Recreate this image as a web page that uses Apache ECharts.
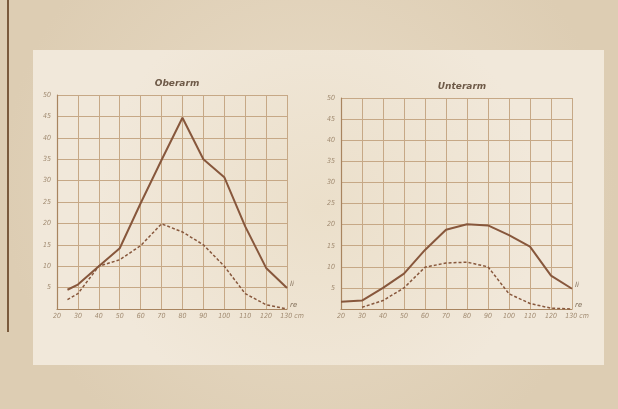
<!DOCTYPE html>
<html><head><meta charset="utf-8">
<script src="https://cdn.jsdelivr.net/npm/echarts@6/dist/echarts.min.js"></script>
<style>html,body{margin:0;padding:0;background:#e6d8c2}#c{width:618px;height:409px}</style>
</head><body><div id="c"></div>
<script>
// Data
const xTicksLabels = ['20','30','40','50','60','70','80','90','100','110','120','130 cm'];
const yTickLabels = ['','5','10','15','20','25','30','35','40','45','50'];
const oberX  = [25, 30, 40, 50, 60, 70, 80, 90, 100, 110, 120, 130];
const oberLi = [4.5, 5.7, 10, 14.2, 24.7, 34.8, 44.7, 35, 30.8, 19.3, 9.6, 4.9];
const oberRe = [2.2, 3.6, 10, 11.5, 14.8, 19.9, 18, 15, 10, 3.6, 1, 0];
const unterLiX = [20, 30, 40, 50, 60, 70, 80, 90, 100, 110, 120, 130];
const unterLi  = [1.7, 2, 5, 8.4, 14, 18.8, 20.1, 19.8, 17.5, 14.8, 7.9, 4.8];
const unterReX = [30, 40, 50, 60, 70, 80, 90, 100, 110, 120, 130];
const unterRe  = [0.4, 2, 5, 9.9, 10.9, 11.1, 10, 3.6, 1.3, 0.2, 0];
const titles = ['Oberarm', 'Unterarm'];

const lineCol = '#87573c';
const gridCol = '#c6a886';
const axisCol = '#a8845f';
const txtCol = '#a08a70';

function pairs(xs, ys){ return xs.map((x,i)=>[x, ys[i]]); }

function xAxis(idx){
  return {
    type:'value', gridIndex:idx, min:20, max:130, interval:10,
    axisLine:{show:true, lineStyle:{color:axisCol, width:1.2}},
    axisTick:{show:false},
    splitLine:{show:true, lineStyle:{color:gridCol, width:1}},
    axisLabel:{color:txtCol, fontSize:7, fontStyle:'italic', fontFamily:'DejaVu Sans Condensed, DejaVu Sans', margin:4,
      formatter:(v)=>{const i=Math.round((v-20)/10); const s=xTicksLabels[i]||''; return s.indexOf(' ')>0?'{u|'+s+'}':s;},
      rich:{u:{color:txtCol, fontSize:7, fontStyle:'italic', fontFamily:'DejaVu Sans Condensed, DejaVu Sans', padding:[0,0,0,10]}}}
  };
}
function yAxis(idx){
  return {
    type:'value', gridIndex:idx, min:0, max:50, interval:5,
    axisLine:{show:true, lineStyle:{color:axisCol, width:1.2}},
    axisTick:{show:false},
    splitLine:{show:true, lineStyle:{color:gridCol, width:1}},
    axisLabel:{color:txtCol, fontSize:7, fontStyle:'italic', fontFamily:'DejaVu Sans Condensed, DejaVu Sans', margin:6,
      formatter:(v)=>yTickLabels[Math.round(v/5)]||''}
  };
}
function endLbl(t){
  return {show:true, formatter:t, color:'#7d6a55', fontSize:7, fontStyle:'italic', fontFamily:'DejaVu Sans', distance:3, offset:[0,-4]};
}

const chart = echarts.init(document.getElementById('c'), null, {renderer:'canvas'});
chart.setOption({
  backgroundColor:'#e6d8c2',
  animation:false,
  graphic:[
    {type:'rect', silent:true, z:-10, shape:{x:0,y:0,width:618,height:409},
      style:{fill:new echarts.graphic.RadialGradient(0.5,0.45,0.75,[{offset:0,color:'#e9dcc7'},{offset:1,color:'#ddcdb3'}])}},
    {type:'rect', silent:true, z:-9, shape:{x:33,y:50,width:571,height:315},
      style:{fill:new echarts.graphic.RadialGradient(0.5,0.5,0.7,[{offset:0,color:'#ebdfca'},{offset:1,color:'#f1e8da'}])}},
    {type:'line', silent:true, z:-8, shape:{x1:8,y1:0,x2:8,y2:332}, style:{stroke:'#7a5a3c', lineWidth:2}}
  ],
  title:[
    {text:titles[0], left:172, top:74, textAlign:'center',
      textStyle:{fontSize:9, fontStyle:'italic', fontWeight:'bold', color:'#6e5a48', fontFamily:'DejaVu Sans'}},
    {text:titles[1], left:457, top:77, textAlign:'center',
      textStyle:{fontSize:9, fontStyle:'italic', fontWeight:'bold', color:'#6e5a48', fontFamily:'DejaVu Sans'}}
  ],
  grid:[
    {left:57, right:331, top:95, bottom:100},
    {left:341, right:46, top:98, bottom:100}
  ],
  xAxis:[xAxis(0), xAxis(1)],
  yAxis:[yAxis(0), yAxis(1)],
  series:[
    {type:'line', xAxisIndex:0, yAxisIndex:0, data:pairs(oberX, oberLi), symbol:'none',
      lineStyle:{color:lineCol, width:2}, endLabel:endLbl('li')},
    {type:'line', xAxisIndex:0, yAxisIndex:0, data:pairs(oberX, oberRe), symbol:'none',
      lineStyle:{color:lineCol, width:1.5, type:[3,2]}, endLabel:endLbl('re')},
    {type:'line', xAxisIndex:1, yAxisIndex:1, data:pairs(unterLiX, unterLi), symbol:'none',
      lineStyle:{color:lineCol, width:2}, endLabel:endLbl('li')},
    {type:'line', xAxisIndex:1, yAxisIndex:1, data:pairs(unterReX, unterRe), symbol:'none',
      lineStyle:{color:lineCol, width:1.5, type:[3,2]}, endLabel:endLbl('re')}
  ]
});
</script></body></html>
